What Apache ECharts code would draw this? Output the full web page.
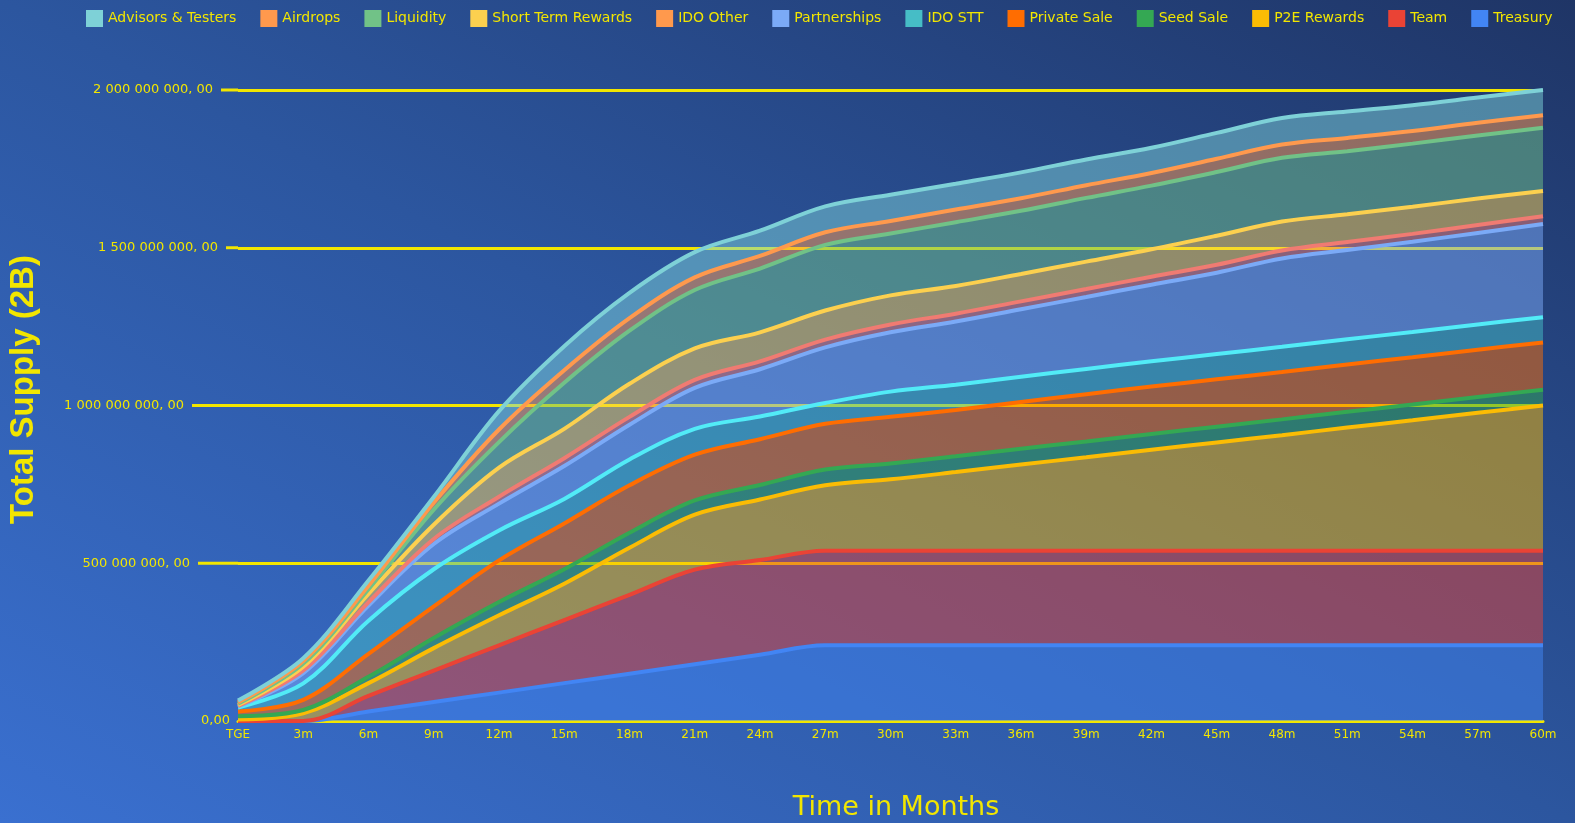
<!DOCTYPE html>
<html>
<head>
<meta charset="utf-8">
<script src="https://cdn.jsdelivr.net/npm/echarts@6/dist/echarts.min.js"></script>
<style>
  html, body { margin: 0; padding: 0; width: 100%; height: 100%; overflow: hidden; }
  body { background: linear-gradient(to top right, #3a70d0 0%, #2c569f 50%, #1f3566 100%); }
  #chart { width: 1575px; height: 823px; }
</style>
</head>
<body>
<div id="chart"></div>
<script>
// Unlocked token supply per allocation (millions of tokens), every 3 months from TGE
const months = ['TGE','3m','6m','9m','12m','15m','18m','21m','24m','27m','30m','33m','36m','39m','42m','45m','48m','51m','54m','57m','60m'];

const treasury         = [0, 0, 30, 60, 90, 120, 150, 180, 210, 240, 240, 240, 240, 240, 240, 240, 240, 240, 240, 240, 240];
const team             = [0, 0, 50, 100, 150, 200, 250, 300, 300, 300, 300, 300, 300, 300, 300, 300, 300, 300, 300, 300, 300];
const p2eRewards       = [5, 24, 40, 71, 95, 115, 149, 174, 192, 207, 226, 249, 273, 296, 320, 343, 366, 390, 413, 437, 460];
const seedSale         = [10, 11, 20, 32, 42, 46, 48, 45, 46, 50, 50, 50, 50, 50, 50, 50, 50, 50, 50, 50, 50];
const privateSale      = [15, 32, 73, 100, 132, 145, 150, 145, 145, 145, 148, 147, 148, 150, 150, 150, 150, 150, 150, 150, 150];
const idoStt           = [13, 52, 105, 118, 95, 78, 82, 82, 72, 66, 80, 80, 80, 80, 80, 80, 80, 80, 80, 80, 80];
const partnerships     = [3, 33, 48, 80, 85, 104, 110, 130, 150, 176, 188, 200, 214, 228, 243, 258, 280, 283, 286, 290, 295];
const idoOther         = [2, 8, 10, 16, 22, 25, 25, 25, 25, 25, 25, 25, 25, 25, 25, 25, 25, 25, 25, 25, 25];
const shortTermRewards = [3, 12, 27, 45, 92, 93, 105, 100, 92, 92, 92, 88, 87, 87, 87, 92, 92, 88, 86, 84, 80];
const liquidity        = [4, 10, 15, 48, 81, 146, 168, 185, 202, 208, 196, 202, 200, 202, 202, 202, 202, 200, 200, 200, 200];
const airdrops         = [4, 8, 11, 22, 40, 40, 40, 40, 40, 40, 40, 40, 40, 40, 40, 42, 42, 42, 40, 40, 40];
const advisorsTesters  = [6, 9, 16, 18, 58, 76, 80, 80, 80, 82, 83, 82, 82, 82, 80, 82, 84, 84, 82, 80, 80];

const UNIT = 1e6;

// stacking order: bottom to top
const allocations = [
  { name: 'Treasury',           data: treasury,         key: '#4285f4', line: '#4285f4', fill: '#4285f4' },
  { name: 'Team',               data: team,             key: '#ea4335', line: '#ea4335', fill: '#ea4335' },
  { name: 'P2E Rewards',        data: p2eRewards,       key: '#fbbc04', line: '#fbbc04', fill: '#fbbc04' },
  { name: 'Seed Sale',          data: seedSale,         key: '#34a853', line: '#34a853', fill: '#34a853' },
  { name: 'Private Sale',       data: privateSale,      key: '#ff6d01', line: '#ff6d01', fill: '#ff6d01' },
  { name: 'IDO STT',            data: idoStt,           key: '#46bdc6', line: '#52ebf7', fill: '#46bdc6' },
  { name: 'Partnerships',       data: partnerships,     key: '#7baaf7', line: '#7baaf7', fill: '#7baaf7' },
  { name: 'IDO Other',          data: idoOther,         key: '#ff994d', line: '#f07b72', fill: '#f07b72' },
  { name: 'Short Term Rewards', data: shortTermRewards, key: '#fcd04f', line: '#fcd04f', fill: '#fcd04f' },
  { name: 'Liquidity',          data: liquidity,        key: '#71c287', line: '#71c287', fill: '#71c287' },
  { name: 'Airdrops',           data: airdrops,         key: '#ff994d', line: '#ff994d', fill: '#ff994d' },
  { name: 'Advisors & Testers', data: advisorsTesters,  key: '#7ed1d7', line: '#7ed1d7', fill: '#7ed1d7' }
];

const YELLOW = '#f2e600';
const FONT = '"DejaVu Sans", sans-serif';

function fmtSupply(v) {
  if (v === 0) return '0,00';
  return String(v).replace(/\B(?=(\d{3})+(?!\d))/g, ' ') + ', 00';
}
// leader stroke between each tick label and the plot
const leadStyle = { 0: 'z', 500000000: 'a', 1000000000: 'b', 1500000000: 'c', 2000000000: 'd' };
const leadRich = {
  t:  { color: YELLOW, fontSize: 13, fontFamily: FONT, verticalAlign: 'middle' },
  sp: { width: 8, height: 3, verticalAlign: 'middle' },
  z:  { width: 0, height: 3, verticalAlign: 'middle' },
  a:  { width: 40, height: 3, backgroundColor: YELLOW, verticalAlign: 'middle' },
  b:  { width: 46, height: 3, backgroundColor: YELLOW, verticalAlign: 'middle' },
  c:  { width: 12, height: 3, backgroundColor: YELLOW, verticalAlign: 'middle' },
  d:  { width: 17, height: 3, backgroundColor: YELLOW, verticalAlign: 'middle' }
};

const areaSeries = allocations.map(a => ({
  name: a.name, type: 'line', stack: 'fill', smooth: 0.35, symbol: 'none', z: 2,
  data: a.data.map(v => v * UNIT),
  itemStyle: { color: a.key },
  lineStyle: { width: 0, opacity: 0 },
  areaStyle: { color: a.fill, opacity: 0.5 }
}));
const lineSeries = allocations.map(a => ({
  name: a.name, type: 'line', stack: 'edge', smooth: 0.35, symbol: 'none', z: 3,
  data: a.data.map(v => v * UNIT),
  itemStyle: { color: a.key },
  lineStyle: { width: 4, color: a.line }
}));

const chart = echarts.init(document.getElementById('chart'), null, { renderer: 'canvas' });
chart.setOption({
  animation: false,
  backgroundColor: 'transparent',
  legend: {
    top: 5, left: 81,
    data: allocations.map(a => a.name).reverse(),
    icon: 'rect', itemWidth: 17, itemHeight: 17, itemGap: 24,
    textStyle: { color: YELLOW, fontSize: 14, fontFamily: FONT }
  },
  grid: { left: 238, right: 32, top: 90, bottom: 102, containLabel: false, outerBoundsMode: 'none' },
  xAxis: {
    type: 'category', data: months, boundaryGap: false,
    name: 'Time in Months', nameLocation: 'middle', nameGap: 73,
    nameTextStyle: { color: YELLOW, fontSize: 27, fontFamily: FONT, padding: [0, 0, 0, 11] },
    axisLine: { show: true, lineStyle: { color: YELLOW, width: 3 } },
    axisTick: { show: false },
    axisLabel: { color: YELLOW, fontSize: 12, fontFamily: FONT, margin: 8, interval: 0 },
    splitLine: { show: false }
  },
  yAxis: {
    type: 'value', min: 0, max: 2000000000, interval: 500000000,
    name: 'Total Supply (2B)', nameLocation: 'middle', nameGap: 198,
    nameTextStyle: { color: YELLOW, fontSize: 33, fontWeight: 'bold', fontFamily: '"Liberation Sans", sans-serif', padding: [0, 0, 0, 32] },
    axisLine: { show: false },
    axisTick: { show: false },
    axisLabel: {
      margin: 0,
      formatter: v => `{t|${fmtSupply(v)}}{sp|}{${leadStyle[v]}|}`,
      rich: leadRich
    },
    splitLine: { show: true, lineStyle: { color: YELLOW, width: 3 } }
  },
  series: [...areaSeries, ...lineSeries]
});
</script>
</body>
</html>
